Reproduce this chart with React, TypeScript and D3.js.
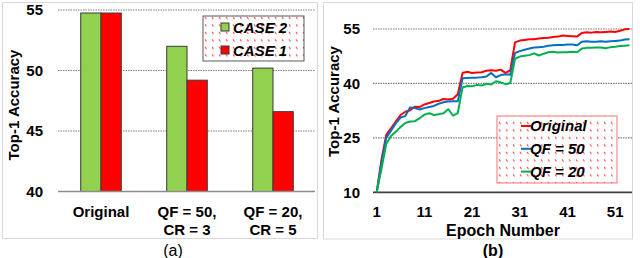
import * as d3 from 'd3';

const categories = [['Original'], ['QF = 50,', 'CR = 3'], ['QF = 20,', 'CR = 5']];
const barKeys = ['CASE 2', 'CASE 1'];
const case2 = [54.75, 52.0, 50.2];
const case1 = [54.75, 49.2, 46.6];
const barTicks = [40, 45, 50, 55];

const epochs = d3.range(1, 55);
const original = [
  10, 19, 25.8, 27.6, 29.5, 31.3, 32.2, 32.6, 33.6, 33.5, 34.2, 34.6, 35.0, 35.2, 35.7, 35.6, 35.8, 37.0,
  42.9, 43.2, 42.9, 43.0, 43.1, 43.5, 43.6, 43.5, 43.8, 42.9, 43.6,
  51.3, 51.8, 52.0, 52.2, 52.2, 52.4, 52.5, 52.6, 52.8, 52.9, 53.2, 53.1, 53.0, 52.9,
  53.9, 54.1, 54.0, 54.2, 54.1, 54.2, 54.3, 54.2, 54.5, 54.9, 55.0,
];
const qf50 = [
  10, 18, 25, 27, 29, 30.6, 31.0, 33.4, 33.2, 32.8, 33.2, 33.5, 33.8, 34.4, 34.8, 35.0, 35.1, 35.1,
  41.4, 41.5, 41.6, 41.6, 41.7, 41.9, 42.9, 41.7, 42.3, 42.5, 42.4,
  48.4, 48.9, 49.3, 49.6, 49.9, 50.0, 50.1, 50.4, 50.5, 50.6, 50.6, 50.7, 50.7, 50.5,
  51.5, 51.6, 51.5, 51.5, 51.6, 51.5, 51.6, 51.7, 51.8, 52.1, 52.2,
];
const qf20 = [
  10, 16.5, 23.3, 25.5, 26.7, 28.0, 29.1, 29.5, 29.6, 30.4, 31.4, 31.8, 31.3, 31.5, 31.8, 32.9, 31.1, 31.8,
  38.9, 39.3, 39.2, 39.6, 39.4, 39.9, 39.7, 40.6, 40.3, 39.8, 40.1,
  46.8, 47.4, 47.6, 47.8, 48.3, 47.7, 48.2, 48.6, 48.7, 48.5, 48.6, 48.6, 48.7, 48.6,
  49.6, 49.8, 49.8, 49.9, 49.9, 49.7, 50.0, 50.1, 50.3, 50.4, 50.5,
];
const lineTicks = [10, 25, 40, 55];
const epochTicks = [1, 11, 21, 31, 41, 51];

const series = [
  { name: 'Original', values: original, color: '#ff0000' },
  { name: 'QF = 50', values: qf50, color: '#0070c0' },
  { name: 'QF = 20', values: qf20, color: '#00b050' },
];

const font = '"Liberation Sans", Arial, sans-serif';
const gridStroke = '#7f7f7f';

const BarChart = () => {
  const x0 = d3.scaleBand<number>().domain(d3.range(categories.length)).range([58, 316]);
  const x1 = d3
    .scaleBand<string>()
    .domain(barKeys)
    .range([0, x0.bandwidth()])
    .paddingInner(0)
    .paddingOuter(1.12);
  const y = d3.scaleLinear().domain([40, 55]).range([191.5, 10]);
  const colors: Record<string, string> = { 'CASE 2': '#92d050', 'CASE 1': '#ff0000' };
  const vals: Record<string, number[]> = { 'CASE 2': case2, 'CASE 1': case1 };

  return (
    <g>
      <rect x={2.5} y={2.5} width={315} height={236} fill="none" stroke="#d9d9d9" />
      {barTicks.slice(1).map(t => (
        <line key={t} x1={58} x2={315} y1={y(t)} y2={y(t)} stroke={gridStroke} strokeWidth={1.2} strokeDasharray="1.5 1" />
      ))}
      {barTicks.map(t => (
        <text key={t} x={43} y={y(t)} dy="0.35em" textAnchor="end" fontSize={15} fontWeight="bold">
          {t}
        </text>
      ))}
      {categories.map((c, i) =>
        barKeys.map(k => (
          <rect
            key={k + i}
            x={(x0(i) || 0) + (x1(k) || 0)}
            y={y(vals[k][i])}
            width={x1.bandwidth()}
            height={y(40) - y(vals[k][i])}
            fill={colors[k]}
            stroke="#3a3a3a"
            strokeWidth={1}
          />
        ))
      )}
      <line x1={58} x2={315} y1={y(40)} y2={y(40)} stroke="#8c8c8c" strokeWidth={1.5} />
      {categories.map((c, i) => (
        <text key={i} x={(x0(i) || 0) + x0.bandwidth() / 2} y={216.5} textAnchor="middle" fontSize={15} fontWeight="bold">
          {c.map((s, j) => (
            <tspan key={j} x={(x0(i) || 0) + x0.bandwidth() / 2} dy={j === 0 ? 0 : 18.5}>
              {s}
            </tspan>
          ))}
        </text>
      ))}
      <text transform="translate(19,105) rotate(-90)" textAnchor="middle" fontSize={15} fontWeight="bold">
        Top-1 Accuracy
      </text>
      <g>
        <rect x={203} y={16} width={101} height={45} fill="#fff" />
        <rect x={203} y={16} width={101} height={45} fill="url(#redDots)" stroke="#595959" strokeWidth={1} />
        {barKeys.map((k, i) => (
          <g key={k}>
            <rect x={221} y={23 + i * 23} width={8} height={8} fill={colors[k]} stroke="#3a3a3a" />
            <text x={233} y={32.5 + i * 23} fontSize={15} fontWeight="bold" fontStyle="italic">
              {k}
            </text>
          </g>
        ))}
      </g>
      <text x={173} y={256} textAnchor="middle" fontSize={16}>
        (a)
      </text>
    </g>
  );
};

const LineChart = () => {
  const x = d3.scaleLinear().domain([1, 51]).range([376.7, 615.2]);
  const y = d3.scaleLinear().domain([10, 55]).range([192.3, 29]);
  const line = d3
    .line<number>()
    .x((d, i) => x(epochs[i]))
    .y(d => y(d));

  return (
    <g>
      <rect x={323.5} y={2.5} width={309} height={236.5} fill="none" stroke="#d9d9d9" />
      {lineTicks.slice(1).map(t => (
        <line key={t} x1={373} x2={632} y1={y(t)} y2={y(t)} stroke={gridStroke} strokeWidth={1.2} strokeDasharray="1.5 1" />
      ))}
      <line x1={373} x2={632} y1={y(10)} y2={y(10)} stroke="#404040" strokeWidth={1.8} />
      {lineTicks.map(t => (
        <text key={t} x={360} y={y(t)} dy="0.35em" textAnchor="end" fontSize={15} fontWeight="bold">
          {t}
        </text>
      ))}
      {epochTicks.map(t => (
        <text key={t} x={x(t)} y={217} textAnchor="middle" fontSize={15} fontWeight="bold">
          {t}
        </text>
      ))}
      <text x={503} y={235.5} textAnchor="middle" fontSize={16} fontWeight="bold">
        Epoch Number
      </text>
      <text transform="translate(339,101.5) rotate(-90)" textAnchor="middle" fontSize={15} fontWeight="bold">
        Top-1 Accuracy
      </text>
      {series.map(s => (
        <path key={s.name} d={line(s.values) || ''} fill="none" stroke={s.color} strokeWidth={2} strokeLinejoin="round" />
      ))}
      <g>
        <rect x={497} y={116} width={120} height={67} fill="#fff" />
        <rect x={497} y={116} width={120} height={67} fill="url(#redDots)" stroke="#ff7070" strokeWidth={1} />
        {series.map((s, i) => (
          <g key={s.name}>
            <line x1={521} x2={531} y1={126 + i * 22.8} y2={126 + i * 22.8} stroke={s.color} strokeWidth={2} />
            <text x={530} y={126 + i * 22.8} dy="0.35em" fontSize={15} fontWeight="bold" fontStyle="italic">
              {s.name}
            </text>
          </g>
        ))}
      </g>
      <text x={493} y={256} textAnchor="middle" fontSize={16} fontWeight="bold">
        (b)
      </text>
    </g>
  );
};

export default function App() {
  return (
    <svg
      width={640}
      height={258}
      viewBox="0 0 640 258"
      style={{ position: 'absolute', left: 0, top: 0, background: '#fff' }}
      fontFamily={font}
    >
      <defs>
        <pattern id="redDots" width={7} height={7.5} patternUnits="userSpaceOnUse">
          <line x1={2} y1={2} x2={3.5} y2={4} stroke="#ff3030" strokeWidth={1} />
        </pattern>
      </defs>
      <BarChart />
      <LineChart />
    </svg>
  );
}
